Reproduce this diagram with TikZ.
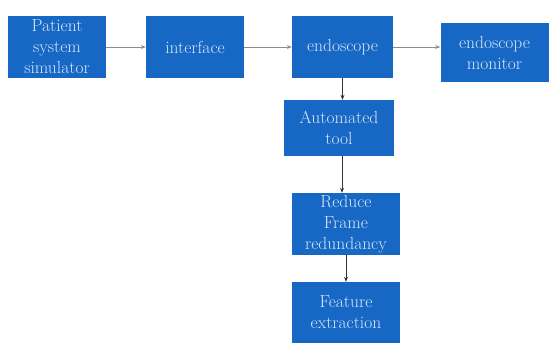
\documentclass[tikz,border=0pt]{standalone}
\usetikzlibrary{arrows.meta}
\definecolor{boxblue}{RGB}{22,104,196}
\definecolor{boxtext}{RGB}{215,230,248}
\tikzset{
  blk/.style={draw=none, fill=boxblue, text=boxtext, align=center, inner sep=0pt,
    font=\fontsize{17.5}{21}\selectfont},
  harrow/.style={draw=black!45, line width=0.9pt, -{Stealth[length=5pt,width=4pt]}},
  varrow/.style={draw=black!80, line width=1pt, -{Stealth[length=5pt,width=4pt]}}
}
\begin{document}
\begin{tikzpicture}[x=1pt,y=1pt]
\useasboundingbox (0,0) rectangle (549,343);
\fill[white] (0,0) rectangle (549,343);
\node[blk, minimum width=98pt, minimum height=62pt] (pss) at (57,296) {Patient\\system\\simulator};
\node[blk, minimum width=98pt, minimum height=62pt] (intf) at (195,296) {interface};
\node[blk, minimum width=101pt, minimum height=62pt] (endo) at (342.5,296) {endoscope};
\node[blk, minimum width=108pt, minimum height=59pt] (mon) at (494.5,290) {endoscope\\monitor};
\node[blk, minimum width=110pt, minimum height=56pt] (auto) at (339,215) {Automated\\tool};
\node[blk, minimum width=108pt, minimum height=62pt] (red) at (346,119) {Reduce\\Frame\\redundancy};
\node[blk, minimum width=108pt, minimum height=61pt] (feat) at (346,30.5) {Feature\\extraction};
\draw[harrow] (pss.east) -- (intf.west);
\draw[harrow] (intf.east) -- (endo.west);
\draw[harrow] (endo.east) -- (endo.east -| mon.west);
\draw[varrow] (endo.south) -- (endo.south |- auto.north);
\draw[varrow] ([xshift=3pt]auto.south) -- ([xshift=3pt]auto.south |- red.north);
\draw[varrow] (red.south) -- (feat.north);
\end{tikzpicture}
\end{document}
